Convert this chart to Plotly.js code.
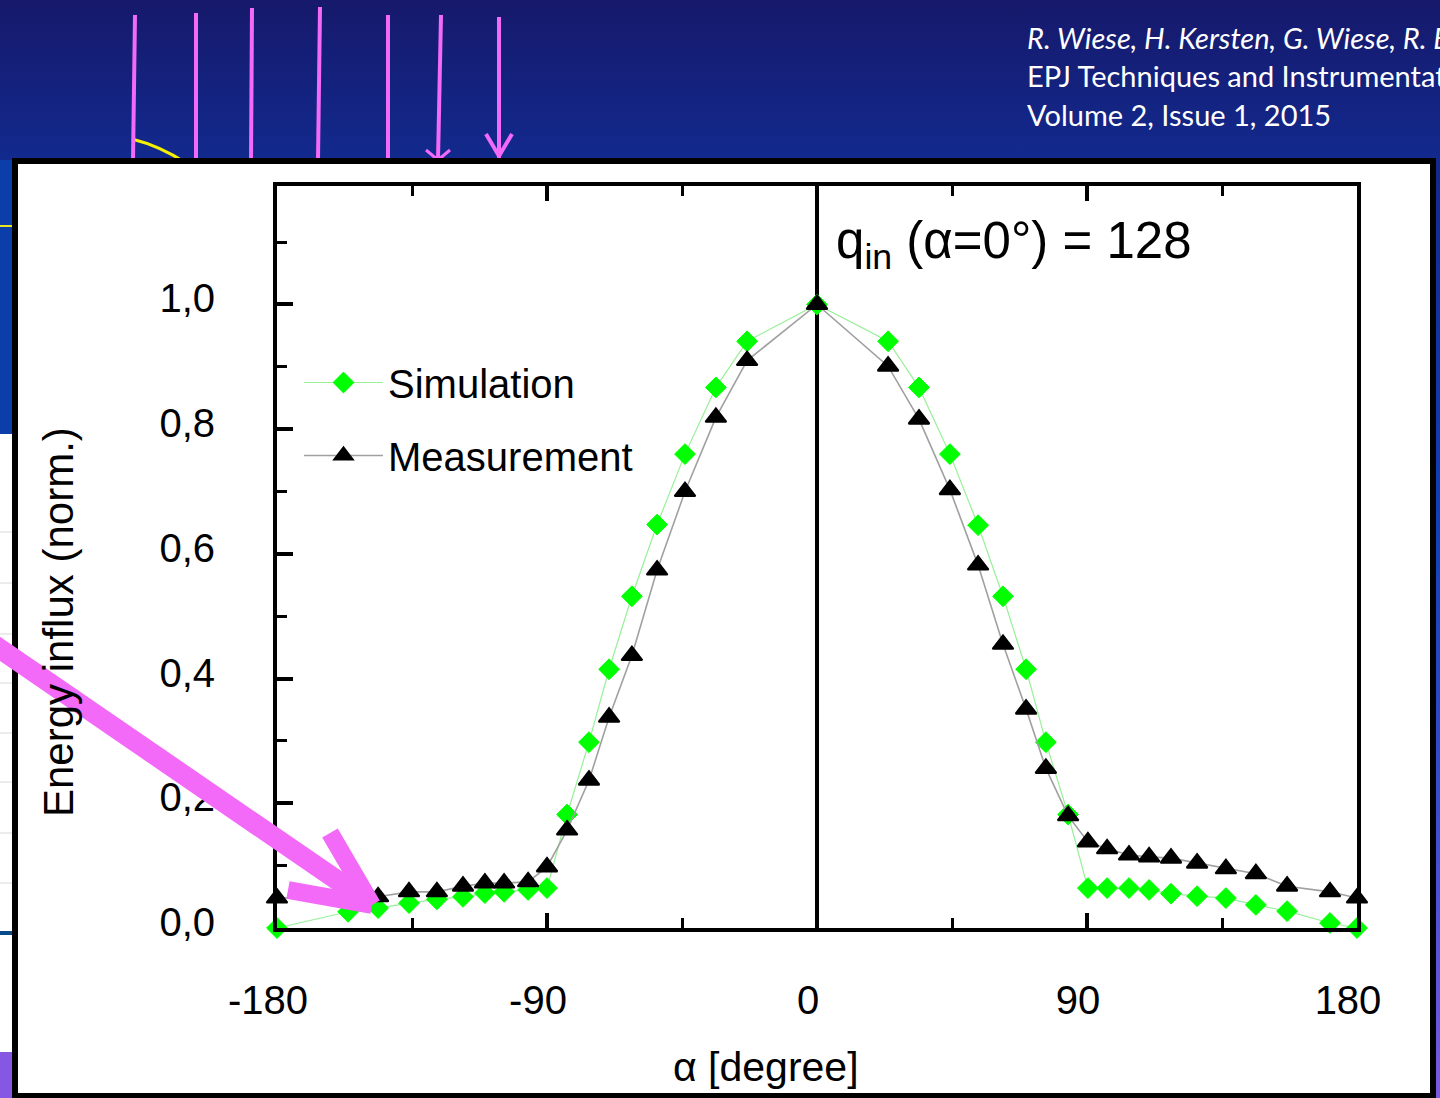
<!DOCTYPE html>
<html>
<head>
<meta charset="utf-8">
<script src="https://cdn.plot.ly/plotly-3.0.1.min.js"></script>
<style>
  html, body { margin: 0; padding: 0; }
  body {
    width: 1440px; height: 1098px; overflow: hidden;
    background: linear-gradient(to bottom, #16196b 0px, #122a8f 165px, #1140bb 520px, #3a4fd2 820px, #7b59e2 1098px);
  }
  #chart { width: 1440px; height: 1098px; }
</style>
</head>
<body>
<div id="chart"></div>
<script>
// ---------------- data ----------------
const angles = [-180, -156.3, -146.3, -136, -126.7, -118, -110.7, -104.3, -96.3, -90,
  -83.3, -76, -69.3, -61.7, -53.3, -44, -33.7, -23.3, 0,
  23.7, 34, 44.3, 53.7, 62, 69.7, 76.3, 83.7, 90.3, 96.7, 104, 110.7, 118, 126.7,
  136.3, 146.3, 156.7, 171, 180];

const simulation = [0.000, 0.026, 0.032, 0.040, 0.046, 0.050, 0.056, 0.058, 0.061, 0.064,
  0.182, 0.298, 0.415, 0.532, 0.647, 0.760, 0.867, 0.941, 1.000,
  0.941, 0.867, 0.760, 0.646, 0.532, 0.415, 0.298, 0.182, 0.064, 0.064, 0.064, 0.061,
  0.055, 0.051, 0.048, 0.037, 0.027, 0.008, 0.000];

const measurement = [0.048, 0.049, 0.050, 0.058, 0.058, 0.067, 0.072, 0.072, 0.074, 0.098,
  0.157, 0.237, 0.338, 0.437, 0.574, 0.700, 0.819, 0.910, 1.000,
  0.901, 0.816, 0.703, 0.582, 0.455, 0.351, 0.256, 0.180, 0.138, 0.127, 0.117, 0.114,
  0.112, 0.104, 0.095, 0.087, 0.067, 0.058, 0.048];

const seriesNames = ['Simulation', 'Measurement'];
const xTickVals = [-180, -90, 0, 90, 180];
const xTickText = ['-180', '-90', '0', '90', '180'];
const yTickVals = [0, 0.2, 0.4, 0.6, 0.8, 1.0];
const yTickText = ['0,0', '0,2', '0,4', '0,6', '0,8', '1,0'];
const xTitle = 'α [degree]';
const yTitle = 'Energy influx (norm.)';
const noteText = 'q<sub>in</sub> (α=0°) = 128';
const citation = ['<i>R. Wiese, H. Kersten, G. Wiese, R. Bartsch</i>',
  'EPJ Techniques and Instrumentation',
  'Volume 2, Issue 1, 2015'];

// ---------------- page geometry ----------------
const W = 1440, H = 1098;
const ML = 277, MR = 83, MT = 186, MB = 170;
const PW = W - ML - MR, PH = H - MT - MB;
const fx = x => (x - ML) / PW;
const fy = y => (H - MB - y) / PH;
const seg = (x0, y0, x1, y1, color, width, layer) => ({
  type: 'line', xref: 'paper', yref: 'paper', layer: layer || 'above',
  x0: fx(x0), y0: fy(y0), x1: fx(x1), y1: fy(y1),
  line: { color: color, width: width }
});
const rect = (x0, y0, x1, y1, fill, line, lw, layer) => ({
  type: 'rect', xref: 'paper', yref: 'paper', layer: layer || 'below',
  x0: fx(x0), y0: fy(y0), x1: fx(x1), y1: fy(y1),
  fillcolor: fill, line: { color: line || 'rgba(0,0,0,0)', width: lw || 0 }
});

const PINK = '#f26af7';
const shapes = [];
// slide remnants at the left edge
shapes.push(rect(0, 160, 13, 434, '#0b3ea8'));
shapes.push(rect(0, 434, 13, 1052, '#ffffff'));
[532, 583, 634, 683, 733, 782, 833, 883].forEach(y => shapes.push(seg(0, y, 13, y, '#d8d8d8', 1, 'below')));
shapes.push(seg(0, 933, 13, 933, '#0a4a8a', 4, 'below'));
shapes.push(rect(0, 1052, 13, 1098, '#8657e2'));
shapes.push(seg(0, 226, 13, 226, '#e8e820', 2, 'below'));
// yellow arc
shapes.push({ type: 'path', xref: 'paper', yref: 'paper', layer: 'below',
  path: `M${fx(132)},${fy(139)} Q${fx(160)},${fy(146)} ${fx(186)},${fy(163)}`,
  line: { color: '#f5f000', width: 3 } });
// pink vertical arrows at the top
[[135, 15, 133], [196, 13, 196], [252, 8, 251], [320, 7, 318], [388, 15, 388], [441, 15, 438], [499, 17, 499]]
  .forEach(a => shapes.push(seg(a[0], a[1], a[2], 160, PINK, 4, 'below')));
shapes.push(seg(486, 134, 499, 156, PINK, 4, 'below'));
shapes.push(seg(512, 134, 499, 156, PINK, 4, 'below'));
shapes.push(seg(426, 150, 438, 160, PINK, 3, 'below'));
shapes.push(seg(450, 150, 438, 160, PINK, 3, 'below'));
// white chart card with black border
shapes.push(rect(15, 161, 1433, 1096, '#ffffff', '#000000', 6, 'below'));
// big pink arrow pointing at the wings of the distribution
shapes.push(seg(-10, 642, 366, 900, PINK, 20, 'above'));
shapes.push(seg(288, 890, 372, 905, PINK, 18, 'above'));
shapes.push(seg(330, 833, 372, 905, PINK, 18, 'above'));

const axisFont = { family: 'Liberation Sans, Arial, sans-serif', size: 40, color: '#000' };
const annotations = [
  { xref: 'paper', yref: 'paper', x: fx(834), y: fy(244), xanchor: 'left', yanchor: 'middle',
    text: noteText, showarrow: false, font: { family: 'Liberation Sans, Arial, sans-serif', size: 51, color: '#000' } },
  { xref: 'paper', yref: 'paper', x: fx(766), y: fy(1067), xanchor: 'center', yanchor: 'middle',
    text: xTitle, showarrow: false, font: { family: 'Liberation Sans, Arial, sans-serif', size: 41, color: '#000' } },
  { xref: 'paper', yref: 'paper', x: fx(58), y: fy(622), xanchor: 'center', yanchor: 'middle', textangle: -90,
    text: yTitle, showarrow: false, font: { family: 'Liberation Sans, Arial, sans-serif', size: 42, color: '#000' } }
];
[37, 76, 114].forEach((yy, i) => annotations.push({
  xref: 'paper', yref: 'paper', x: fx(1025), y: fy(yy), xanchor: 'left', yanchor: 'middle',
  text: citation[i], showarrow: false, font: { family: 'Lato, Open Sans, sans-serif', size: 29, color: '#ffffff' }
}));

const traces = [
  { x: angles, y: simulation, name: seriesNames[0], type: 'scatter', mode: 'lines+markers',
    legendgroup: 'a', cliponaxis: false,
    line: { color: '#98f098', width: 1.2 },
    marker: { symbol: 'diamond', size: 16, color: '#00ff00', line: { width: 1, color: '#00ff00' } } },
  { x: angles, y: measurement, name: seriesNames[1], type: 'scatter', mode: 'lines+markers',
    legendgroup: 'b', cliponaxis: false,
    line: { color: '#a0a0a0', width: 1.6 },
    marker: { symbol: 'triangle-up', size: 18, color: '#000000', line: { width: 2, color: '#000000' } } }
];

const layout = {
  width: W, height: H,
  margin: { l: ML, r: MR, t: MT, b: MB, pad: 0 },
  paper_bgcolor: 'rgba(0,0,0,0)', plot_bgcolor: 'rgba(0,0,0,0)',
  font: axisFont,
  showlegend: true,
  legend: { x: fx(299), y: fy(350), xanchor: 'left', yanchor: 'top', bgcolor: 'rgba(0,0,0,0)',
    font: axisFont, itemwidth: 79, tracegroupgap: 18, traceorder: 'grouped' },
  xaxis: {
    range: [-180, 180], fixedrange: true,
    tickmode: 'array', tickvals: xTickVals, ticktext: xTickText,
    ticks: 'inside', ticklen: 15, tickwidth: 4, tickcolor: '#000',
    minor: { tickmode: 'linear', tick0: -180, dtick: 45, ticks: 'inside', ticklen: 10, tickwidth: 3, tickcolor: '#000' },
    showline: true, linewidth: 4, linecolor: '#000', mirror: 'ticks',
    showgrid: false, zeroline: true, zerolinecolor: '#000', zerolinewidth: 4,
    tickfont: axisFont, ticklabelstandoff: 34, ticklabelshift: -9
  },
  yaxis: {
    range: [0, 1.19], fixedrange: true,
    tickmode: 'array', tickvals: yTickVals, ticktext: yTickText,
    ticks: 'inside', ticklen: 16, tickwidth: 4, tickcolor: '#000',
    minor: { tickmode: 'linear', tick0: 0, dtick: 0.1, ticks: 'inside', ticklen: 10, tickwidth: 3, tickcolor: '#000' },
    showline: true, linewidth: 4, linecolor: '#000', mirror: true,
    showgrid: false, zeroline: false,
    tickfont: axisFont, ticklabelstandoff: 50, ticklabelshift: -6
  },
  yaxis2: {
    overlaying: 'y', anchor: 'free', position: 0.5, side: 'left', range: [0, 1.19], fixedrange: true,
    tickmode: 'array', tickvals: yTickVals, showticklabels: false,
    ticks: 'outside', ticklen: 17, tickwidth: 4, tickcolor: '#000',
    minor: { tickmode: 'linear', tick0: 0, dtick: 0.1, ticks: 'outside', ticklen: 10, tickwidth: 3, tickcolor: '#000' },
    showline: false, showgrid: false, zeroline: false
  },
  yaxis3: {
    overlaying: 'y', anchor: 'free', position: 0.5, side: 'right', range: [0, 1.19], fixedrange: true,
    tickmode: 'array', tickvals: yTickVals, showticklabels: false,
    ticks: 'outside', ticklen: 17, tickwidth: 4, tickcolor: '#000',
    minor: { tickmode: 'linear', tick0: 0, dtick: 0.1, ticks: 'outside', ticklen: 10, tickwidth: 3, tickcolor: '#000' },
    showline: false, showgrid: false, zeroline: false
  },
  shapes: shapes,
  annotations: annotations
};

Plotly.newPlot('chart', traces, layout, { displayModeBar: false, staticPlot: true });
</script>
</body>
</html>
